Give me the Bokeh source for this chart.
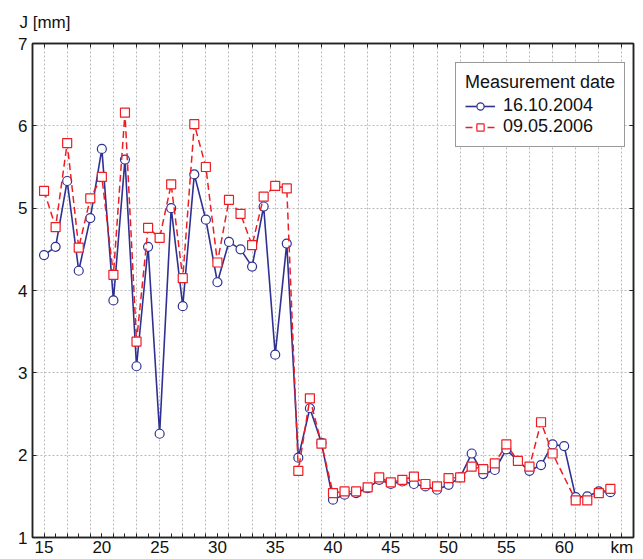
from bokeh.plotting import figure
from bokeh.models import FixedTicker, LinearAxis, Range1d
from bokeh.embed import file_html
from bokeh.resources import INLINE

# ---- data ----
km_2004 = list(range(15, 65))
j_2004 = [4.43, 4.53, 5.33, 4.24, 4.88, 5.72, 3.88, 5.59, 3.08, 4.53,
          2.26, 5.00, 3.81, 5.41, 4.86, 4.10, 4.59, 4.50, 4.29, 5.02,
          3.22, 4.57, 1.97, 2.57, 2.15, 1.46, 1.52, 1.54, 1.60, 1.70,
          1.65, 1.68, 1.65, 1.62, 1.58, 1.64, 1.73, 2.02, 1.77, 1.82,
          2.07, 1.93, 1.81, 1.88, 2.13, 2.11, 1.49, 1.50, 1.56, 1.55]

km_2006 = list(range(15, 60)) + [61, 62, 63, 64]
j_2006 = [5.21, 4.77, 5.79, 4.52, 5.12, 5.38, 4.19, 6.16, 3.38, 4.76,
          4.64, 5.29, 4.15, 6.02, 5.50, 4.34, 5.10, 4.93, 4.55, 5.14,
          5.27, 5.24, 1.81, 2.69, 2.14, 1.54, 1.56, 1.56, 1.61, 1.73,
          1.67, 1.70, 1.74, 1.65, 1.62, 1.72, 1.73, 1.86, 1.83, 1.90,
          2.13, 1.93, 1.86, 2.40, 2.02,
          1.45, 1.45, 1.54, 1.59]

x_ticks = [15, 20, 25, 30, 35, 40, 45, 50, 55, 60, 65]
x_tick_labels = {65: "km"}
y_ticks = [1, 2, 3, 4, 5, 6, 7]
grid_km = list(range(15, 66, 2))
label_2004 = "16.10.2004"
label_2006 = "09.05.2006"
legend_title = "Measurement date"
y_title = "J [mm]"

FONT = "Liberation Sans"
BLUE = "#2E3192"
RED = "#EE1D23"
FRAME = "#222222"

p = figure(width=641, height=559, output_backend="svg", toolbar_location=None,
           x_range=Range1d(14, 66), y_range=Range1d(1, 7),
           min_border_left=32, min_border_right=8, min_border_top=43, min_border_bottom=22)

p.title.text = y_title
p.title.align = "left"
p.title.vertical_align = "top"
p.title.offset = -13
p.title.standoff = 19
p.title.text_font = FONT
p.title.text_font_size = "17px"
p.title.text_font_style = "normal"
p.title.text_color = "#111111"

p.outline_line_color = FRAME
p.outline_line_width = 1.5
p.background_fill_color = "white"
p.border_fill_color = "white"

# bottom axis
xa = p.xaxis[0]
xa.ticker = FixedTicker(ticks=x_ticks, minor_ticks=list(range(14, 67)))
xa.major_label_overrides = x_tick_labels
xa.major_tick_in = 4
xa.major_tick_out = 0
xa.minor_tick_in = 4
xa.minor_tick_out = 0
xa.axis_line_color = FRAME
xa.axis_line_width = 1.5
xa.major_tick_line_color = FRAME
xa.minor_tick_line_color = FRAME
xa.major_label_text_font = FONT
xa.major_label_text_font_size = "17px"
xa.major_label_text_color = "#111111"
xa.major_label_standoff = 0

# left axis
ya = p.yaxis[0]
ya.ticker = FixedTicker(ticks=y_ticks)
ya.major_tick_in = 4
ya.major_tick_out = 0
ya.minor_tick_line_color = None
ya.axis_line_color = FRAME
ya.axis_line_width = 1.5
ya.major_tick_line_color = FRAME
ya.major_label_text_font = FONT
ya.major_label_text_font_size = "17px"
ya.major_label_text_color = "#111111"
ya.major_label_standoff = 5

# right axis (ticks only)
ra = LinearAxis(ticker=FixedTicker(ticks=y_ticks), major_tick_in=4, major_tick_out=0,
                minor_tick_line_color=None, axis_line_color=FRAME, axis_line_width=1.5,
                major_tick_line_color=FRAME, major_label_text_font_size="1px",
                major_label_overrides={t: "" for t in y_ticks},
                major_label_standoff=0)
p.add_layout(ra, "right")

# top axis (ticks only)
ta = LinearAxis(ticker=FixedTicker(ticks=grid_km), major_tick_in=4, major_tick_out=0,
                minor_tick_line_color=None, axis_line_color=FRAME, axis_line_width=1.5,
                major_tick_line_color=FRAME, major_label_text_font_size="1px",
                major_label_overrides={t: "" for t in grid_km},
                major_label_standoff=0)
p.add_layout(ta, "above")

# grids
p.xgrid.ticker = FixedTicker(ticks=grid_km)
p.ygrid.ticker = FixedTicker(ticks=y_ticks)
for g in (p.xgrid[0], p.ygrid[0]):
    g.grid_line_color = "#bbbbbb"
    g.grid_line_dash = "2 2"
    g.grid_line_width = 1

# series
p.line(km_2004, j_2004, line_color=BLUE, line_width=1.6, legend_label=label_2004)
p.scatter(km_2004, j_2004, marker="circle", size=9, line_color=BLUE, line_width=1.2,
          fill_color="white", legend_label=label_2004)
p.line(km_2006, j_2006, line_color=RED, line_width=1.5, line_dash="7 4", legend_label=label_2006)
p.scatter(km_2006, j_2006, marker="square", size=9, line_color=RED, line_width=1.2,
          fill_color="white", legend_label=label_2006)

lg = p.legend[0]
lg.title = legend_title
lg.title_text_font = FONT
lg.title_text_font_size = "18px"
lg.title_text_font_style = "normal"
lg.title_text_color = "#111111"
lg.title_standoff = 2
lg.label_text_font = FONT
lg.label_text_font_size = "18px"
lg.label_text_color = "#111111"
lg.label_height = 18
lg.glyph_height = 18
lg.glyph_width = 30
lg.label_standoff = 8
lg.padding = 9
lg.spacing = -2
lg.margin = 0
lg.border_line_color = "#333333"
lg.border_line_width = 1
lg.background_fill_alpha = 1
lg.location = (423, 390)

open("out.html", "w").write(file_html(p, INLINE))
